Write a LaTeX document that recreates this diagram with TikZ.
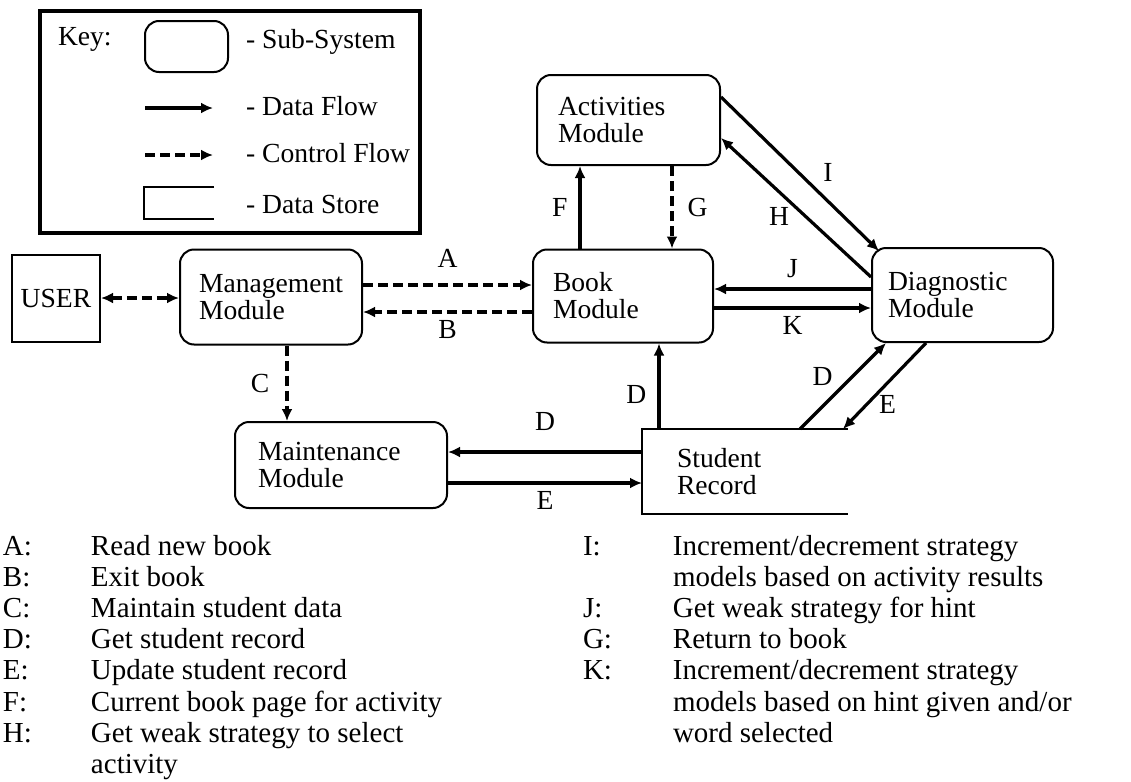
\documentclass[tikz,border=0pt]{standalone}
\usepackage{fontspec}
\setmainfont{Liberation Serif}
\usetikzlibrary{positioning, calc, arrows.meta}

\begin{document}
\begin{tikzpicture}[x=0.5pt, y=-0.5pt, line width=1pt,
    >={Latex[length=6pt,width=5.5pt]},
    every node/.style={font=\fontsize{13.8}{13.5}\selectfont},
    module/.style={draw, rounded corners=7pt, align=left, inner sep=0pt},
    flow/.style={->, line width=1.6pt},
    ctrl/.style={->, line width=1.6pt, dash pattern=on 5pt off 2.5pt},
    lbl/.style={inner sep=2pt},
    keytext/.style={anchor=base west, inner sep=0pt}]

    \useasboundingbox (0,0) rectangle (1131,782);

    % Key
    \draw[line width=1.8pt] (40,11) rectangle (420,233);
    \node[keytext] (keylbl) at (57,45) {Key:};
    \node[module, minimum width=41.5pt, minimum height=25.5pt] (keysub) at (186.5,46.5) {};
    \node[keytext] (keysubtxt) at (245,48) {- Sub-System};
    \coordinate (kf1) at (145,108);
    \coordinate (kf2) at (213,108);
    \draw[flow] (kf1) -- (kf2);
    \node[keytext] (keyflow) at (245,115) {- Data Flow};
    \coordinate (kc1) at (145,155);
    \coordinate (kc2) at (213,155);
    \draw[ctrl] (kc1) -- (kc2);
    \node[keytext] (keyctrl) at (245,162) {- Control Flow};
    \node[inner sep=0pt, minimum width=34pt, minimum height=15pt] (keystore) at (179,203) {};
    \draw (keystore.north east) -- (keystore.north west) -- (keystore.south west) -- (keystore.south east);
    \node[keytext] (keystoretxt) at (245,213) {- Data Store};

    % Sub-systems
    \node[draw, inner sep=0pt, minimum width=44pt, minimum height=43.5pt] (user) at (56,298) {USER};
    \node[module, minimum width=91pt, minimum height=47.5pt, text width=72pt] (mgmt) at (271,297) {Management\\Module};
    \node[module, minimum width=90pt, minimum height=46.5pt, text width=70pt] (book) at (623,296) {Book\\Module};
    \node[module, minimum width=91.5pt, minimum height=45pt, text width=70.5pt] (act) at (628.5,120) {Activities\\Module};
    \node[module, minimum width=90.5pt, minimum height=47pt, text width=74.5pt] (diag) at (962.5,295) {Diagnostic\\Module};
    \node[module, minimum width=106pt, minimum height=43pt, text width=83pt] (maint) at (341,465) {Maintenance\\Module};

    % Data store
    \node[align=left, inner sep=0pt, minimum width=102pt, minimum height=41.5pt, text width=68pt] (rec) at (745,471.5) {Student\\Record};
    \draw[line width=1.2pt] (rec.north east) -- (rec.north west) -- (rec.south west) -- (rec.south east);

    % Control flows
    \draw[ctrl, <->] (user.east) -- (user.east -| mgmt.west);
    \draw[ctrl] ([yshift=6pt]mgmt.east) -- ([yshift=6pt]mgmt.east -| book.west)
        node[lbl, midway, above=6pt] (lA) {A};
    \draw[ctrl] ([yshift=-8pt]book.west) -- ([yshift=-8pt]book.west -| mgmt.east)
        node[lbl, midway, below=1.5pt] (lB) {B};
    \draw[ctrl] ([xshift=8pt]mgmt.south) -- ([xshift=8pt]mgmt.south |- maint.north)
        node[lbl, midway, left=6pt] (lC) {C};
    \draw[ctrl] ([xshift=21.75pt]act.south) -- ([xshift=21.75pt]act.south |- book.north)
        node[lbl, midway, right=5pt] (lG) {G};

    % Data flows
    \draw[flow] ([xshift=-21.5pt]book.north) -- ([xshift=-21.5pt]book.north |- act.south)
        node[lbl, midway, left=3.5pt] (lF) {F};
    \draw[flow] ([yshift=11.5pt]act.east) -- ([xshift=4pt,yshift=-2pt]diag.north west)
        node[lbl, midway, xshift=14pt, yshift=0.75pt] (lI) {I};
    \draw[flow] ([yshift=9pt]diag.west) -- ([yshift=-9pt]act.east)
        node[lbl, midway, xshift=-8.5pt, yshift=-4.5pt] (lH) {H};
    \draw[flow] ([yshift=3pt]diag.west) -- ([yshift=3pt]diag.west -| book.east)
        node[lbl, midway, above=3pt] (lJ) {J};
    \draw[flow] ([yshift=-6pt]book.east) -- ([yshift=-6pt]book.east -| diag.west)
        node[lbl, midway, below=1.5pt] (lK) {K};
    \draw[flow] ([xshift=8.5pt]rec.north west) -- ([xshift=8.5pt]rec.north west |- book.south)
        node[lbl, midway, left=3.5pt, yshift=-4pt] (lD1) {D};
    \draw[flow] ([yshift=9.75pt]rec.west) -- ([yshift=9.75pt]rec.west -| maint.east)
        node[lbl, midway, above=8pt] (lD2) {D};
    \draw[flow] ([yshift=-5.75pt]rec.west -| maint.east) -- ([yshift=-5.75pt]rec.west)
        node[lbl, midway, below=1.5pt] (lE1) {E};
    \draw[flow] ([xshift=27.5pt]rec.north) -- ([xshift=7.5pt]diag.south west)
        node[lbl, midway, xshift=-10.25pt, yshift=5pt] (lD3) {D};
    \draw[flow] ([xshift=27.5pt]diag.south west) -- ([xshift=49pt]rec.north)
        node[lbl, midway, xshift=1.5pt, yshift=-9pt] (lE2) {E};

    % Legend
    \node[anchor=base west, inner sep=0pt, font=\fontsize{14.5}{15.6}\selectfont] (legleft) at (2,555)
        {\begin{tabular}[t]{@{}p{44pt}@{}l@{}}
        A: & Read new book\\
        B: & Exit book\\
        C: & Maintain student data\\
        D: & Get student record\\
        E: & Update student record\\
        F: & Current book page for activity\\
        H: & Get weak strategy to select\\
           & activity
        \end{tabular}};
    \node[anchor=base west, inner sep=0pt, font=\fontsize{14.5}{15.6}\selectfont] (legright) at (582,555)
        {\begin{tabular}[t]{@{}p{45pt}@{}l@{}}
        I: & Increment/decrement strategy\\
           & models based on activity results\\
        J: & Get weak strategy for hint\\
        G: & Return to book\\
        K: & Increment/decrement strategy\\
           & models based on hint given and/or\\
           & word selected
        \end{tabular}};
\end{tikzpicture}
\end{document}
